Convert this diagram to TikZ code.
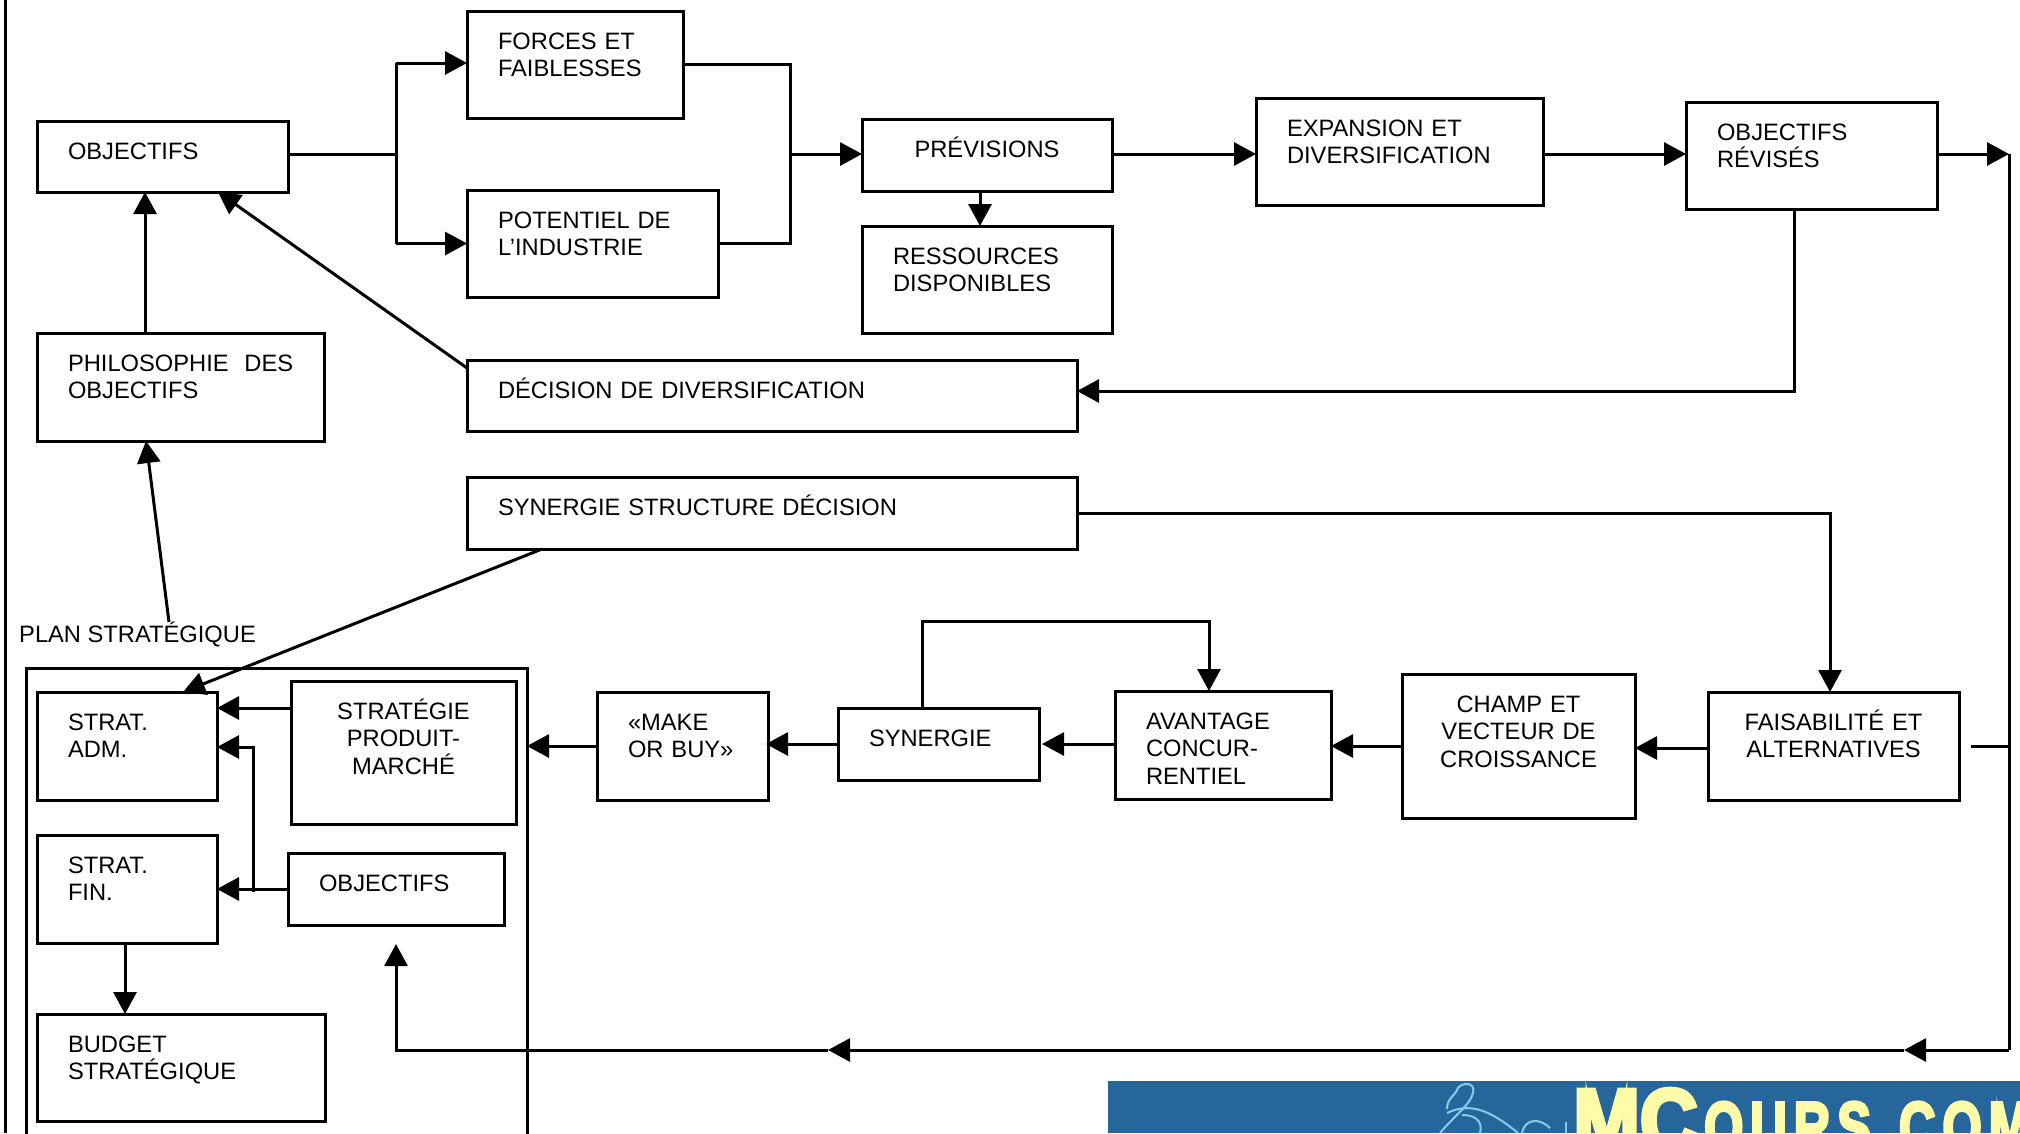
\documentclass[tikz,border=0pt]{standalone}
\usepackage{fontspec}
\setmainfont{Liberation Sans}
\newfontfamily\logofont{Liberation Sans}[FakeBold=5]
\usepackage{tikz}
\usetikzlibrary{positioning}
\usetikzlibrary{arrows.meta}

\definecolor{logoblue}{HTML}{27669A}
\definecolor{logoyellow}{HTML}{FFFBA8}
\definecolor{swanblue}{HTML}{86CDEB}

\tikzset{
	base/.style={draw,line width=3pt,outer sep=0pt,anchor=north west,inner ysep=0pt,font=\fontsize{23.7pt}{27.7pt}\selectfont},
	leftbox/.style 2 args={base,align=left,inner xsep=31pt,text width=#1pt-62pt,text height=38pt,text depth=#2pt-38pt},
	midbox/.style 2 args={base,align=center,inner xsep=0pt,text width=#1pt,text height=38pt,text depth=#2pt-38pt},
	link/.style={line width=3pt},
	arrowlink/.style={link,-{Triangle[length=22pt,width=23pt]}},
	swan/.style={swanblue,line width=2pt}
}

\begin{document}
\begin{tikzpicture}[x=1pt,y=-1pt]
	\useasboundingbox (0,0) rectangle (2020,1133);
	\draw[link] (5,0) -- (5,1133);

	% top rows
	\node[leftbox={251}{71}] (objectifs) at (37,121) {OBJECTIFS};
	\node[leftbox={216}{107}] (forces) at (467,11) {FORCES ET\\FAIBLESSES};
	\node[leftbox={251}{107}] (potentiel) at (467,190) {POTENTIEL DE\\L’INDUSTRIE};
	\node[midbox={250}{72}] (previsions) at (862,119) {PRÉVISIONS};
	\node[leftbox={250}{107}] (ressources) at (862,226) {RESSOURCES\\DISPONIBLES};
	\node[leftbox={287}{107}] (expansion) at (1256,98) {EXPANSION ET\\DIVERSIFICATION};
	\node[leftbox={251}{107}] (revises) at (1686,102) {OBJECTIFS\\RÉVISÉS};
	\node[leftbox={287}{108}] (philosophie) at (37,333) {\mbox{PHILOSOPHIE\ \ DES}\\OBJECTIFS};
	\node[leftbox={610}{71}] (decision) at (467,360) {DÉCISION DE DIVERSIFICATION};
	\node[leftbox={610}{72}] (structure) at (467,477) {SYNERGIE STRUCTURE DÉCISION};

	% middle row
	\node[midbox={251}{108}] (faisabilite) at (1708,692) {FAISABILITÉ ET\\ALTERNATIVES};
	\node[midbox={233}{144}] (champ) at (1402,674) {CHAMP ET\\VECTEUR DE\\CROISSANCE};
	\node[leftbox={216}{108}] (avantage) at (1115,691) {AVANTAGE\\CONCUR-\\RENTIEL};
	\node[leftbox={201}{72}] (synergie) at (838,708) {SYNERGIE};
	\node[leftbox={171}{108}] (make) at (597,692) {«MAKE\\OR BUY»};

	% plan
	\node[base,minimum width=501pt,minimum height=520pt] (plan) at (26,668) {};
	\node[font=\fontsize{23.7pt}{27.7pt}\selectfont,anchor=base west,inner sep=0pt] (planlabel) at (19,642) {PLAN STRATÉGIQUE};
	\node[leftbox={180}{108}] (adm) at (37,692) {STRAT.\\ADM.};
	\node[midbox={225}{143}] (produit) at (291,681) {STRATÉGIE\\PRODUIT-\\MARCHÉ};
	\node[leftbox={180}{108}] (fin) at (37,835) {STRAT.\\FIN.};
	\node[leftbox={216}{72}] (objplan) at (288,853) {OBJECTIFS};
	\node[leftbox={288}{107}] (budget) at (37,1014) {BUDGET\\STRATÉGIQUE};

	\coordinate (fork) at (396,154);
	\coordinate (join) at (790,154);
	\coordinate (planfoot) at (169,622);
	\coordinate (corner) at (2009,1050);
	\coordinate (stub) at (1971,746);
	\coordinate (midtip) at (828,1050);
	\coordinate (hook) at (396,1050);
	\coordinate (hooktip) at (396,944);

	% connectors
	\draw[link] (objectifs.east |- fork) -- (fork);
	\draw[arrowlink] (fork |- 0,63) -- (forces.west |- 0,63);
	\draw[arrowlink] (fork |- potentiel.west) -- (potentiel.west);
	\draw[link] (fork |- 0,63) -- (fork |- potentiel.west);
	\draw[link] (forces.east) -- (join |- forces.east) -- (join |- potentiel.east) -- (potentiel.east);
	\draw[arrowlink] (join) -- (previsions.west |- join);
	\draw[arrowlink] (previsions.east |- join) -- (expansion.west |- join);
	\draw[arrowlink] (expansion.east |- join) -- (revises.west |- join);
	\draw[arrowlink] ([xshift=118pt]previsions.south west) -- ([xshift=118pt]ressources.north west);
	\draw[arrowlink] (revises.east |- join) -- (corner |- join);
	\draw[link] (corner |- join) -- (corner);
	\draw[arrowlink] ([xshift=108pt]revises.south west) |- (decision.east |- 0,391);
	\draw[arrowlink] ([yshift=-8pt]decision.north west) -- ([xshift=181pt]objectifs.south west);
	\draw[arrowlink] ([xshift=108pt]philosophie.north west) -- ([xshift=108pt]objectifs.south west);
	\draw[arrowlink] (planfoot) -- ([xshift=109pt]philosophie.south west);
	\draw[arrowlink] (structure.east |- 0,513) -| (faisabilite.north -| 1830,0);
	\draw[arrowlink] ([xshift=75pt]structure.south west) -- ([xshift=146pt]adm.north west);

	\draw[link] (stub) -- (corner |- stub);
	\draw[arrowlink] (faisabilite.west |- 0,748) -- (champ.east |- 0,748);
	\draw[arrowlink] (champ.west |- stub) -- (avantage.east |- stub);
	\draw[arrowlink] (avantage.west |- 0,744) -- (1042,744);
	\draw[arrowlink] (synergie.west |- 0,744) -- (766,744);
	\draw[arrowlink] (make.west |- stub) -- (plan.east |- stub);
	\draw[arrowlink] ([xshift=84pt]synergie.north west) |- (1209,621) -- ([xshift=94pt]avantage.north west);

	\draw[arrowlink] (produit.west |- 0,708) -- (adm.east |- 0,708);
	\draw[arrowlink] (objplan.west |- 0,889) -- (fin.east |- 0,889);
	\draw[arrowlink] (253,892) |- (adm.east |- 0,747);
	\draw[arrowlink] ([xshift=88pt]fin.south west) -- ([xshift=88pt]budget.north west);

	\draw[arrowlink] (corner) -- (1904,1050);
	\draw[arrowlink] (1904,1050) -- (midtip);
	\draw[arrowlink] (midtip) -- (hook) -- (hooktip);

	% logo
	\fill[logoblue] (1108,1081) rectangle (2020,1133);
	\draw[swan] (1447,1109) .. controls (1447,1098) and (1455,1096) .. (1458,1088) .. controls (1462,1082) and (1476,1082) .. (1473,1093) .. controls (1470,1105) and (1455,1115) .. (1440,1133);
	\draw[swan] (1447,1113) .. controls (1470,1102) and (1490,1110) .. (1518,1133);
	\draw[swan] (1462,1115) .. controls (1480,1115) and (1482,1125) .. (1480,1133);
	\draw[swan] (1522,1133) .. controls (1525,1118) and (1540,1118) .. (1550,1128);
	\draw[swan] (1566,1133) -- (1566,1122);
	\begin{scope}
		\clip (1108,1081) rectangle (2020,1133);
		\node[logoyellow,font=\fontsize{89pt}{89pt}\logofont\bfseries,anchor=base west,inner sep=0pt,xscale=.9] (logobig) at (1573,1151) {MC};
		\node[logoyellow,font=\fontsize{70pt}{70pt}\logofont\bfseries\addfontfeature{LetterSpace=14},anchor=base west,inner sep=0pt,xscale=.72] (logosmall) at (1704,1151) {OURS.COM};
	\end{scope}
\end{tikzpicture}
\end{document}
